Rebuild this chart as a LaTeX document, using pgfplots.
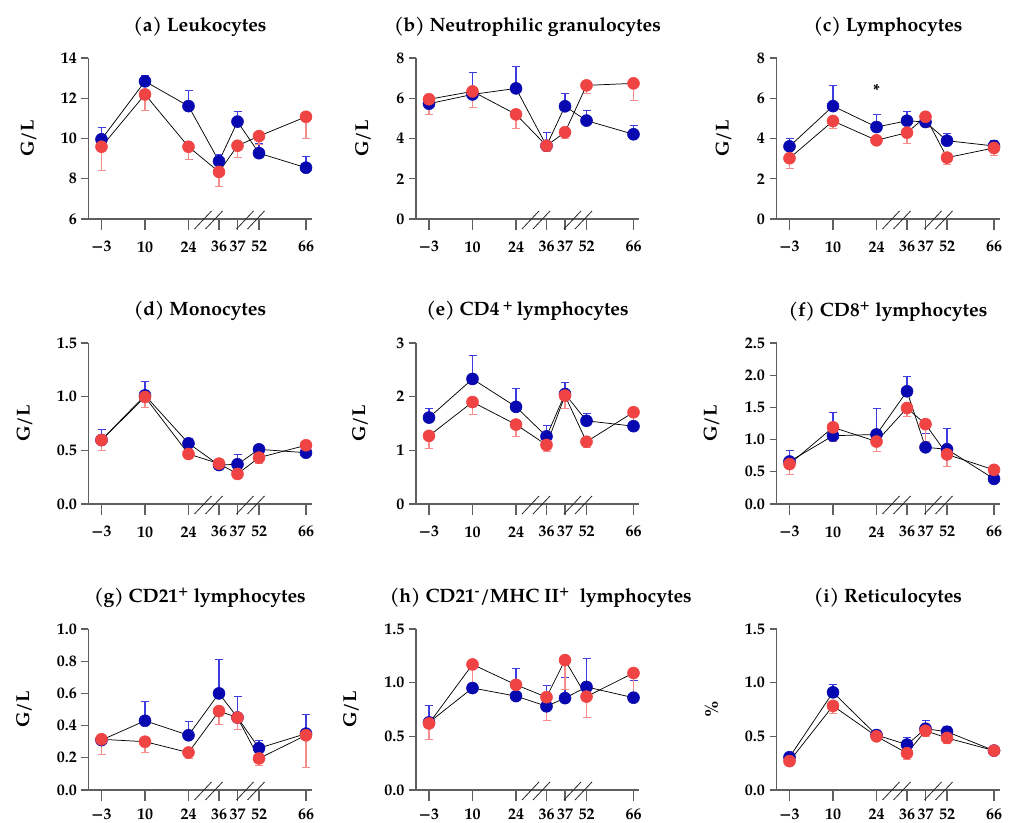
\documentclass[border=0pt]{standalone}
\usepackage{fontspec}
\setmainfont{texgyrepagella}[Extension=.otf, UprightFont=*-regular, BoldFont=*-bold, ItalicFont=*-italic, BoldItalicFont=*-bolditalic]
\usepackage{pgfplots}
\usepackage{pgfplotstable}
\pgfplotsset{compat=1.18}

\definecolor{bmk}{RGB}{8,8,176}
\definecolor{rmk}{RGB}{240,68,68}
\definecolor{bbar}{RGB}{60,60,225}
\definecolor{rbar}{RGB}{244,140,140}
\definecolor{axgray}{RGB}{95,95,95}

% x positions of the weeks -3,10,24,36,37,52,66 on the broken axis
% columns: b = blue group, r = red group, be/re = SEM
\pgfplotstableread{
x b be r re
0 9.96 0.58 9.59 1.17
43.5 12.84 0.30 12.19 0.77
87 11.61 0.80 9.59 0.61
117.5 8.87 0.36 8.34 0.73
136 10.84 0.51 9.64 0.58
157.5 9.27 0.47 10.12 0.39
204.5 8.55 0.56 11.08 1.06
}\tA
\pgfplotstableread{
x b be r re
0 5.73 0.25 5.95 0.75
43.5 6.19 1.10 6.34 0.79
87 6.49 1.08 5.20 0.70
117.5 3.64 0.67 3.64 0.26
136 5.60 0.63 4.31 0.30
157.5 4.89 0.53 6.64 0.40
204.5 4.21 0.46 6.74 0.86
}\tB
\pgfplotstableread{
x b be r re
0 3.61 0.42 3.02 0.51
43.5 5.61 1.04 4.87 0.38
87 4.57 0.64 3.91 0.10
117.5 4.88 0.47 4.29 0.54
136 4.82 0.48 5.08 0.51
157.5 3.89 0.38 3.05 0.33
204.5 3.63 0.28 3.53 0.36
}\tC
\pgfplotstableread{
x b be r re
0 0.596 0.100 0.596 0.099
43.5 1.012 0.131 0.997 0.100
87 0.565 0.045 0.466 0.036
117.5 0.363 0.020 0.376 0.020
136 0.370 0.093 0.280 0.040
157.5 0.509 0.020 0.432 0.052
204.5 0.478 0.020 0.547 0.020
}\tD
\pgfplotstableread{
x b be r re
0 1.61 0.17 1.27 0.24
43.5 2.33 0.44 1.90 0.23
87 1.81 0.34 1.48 0.22
117.5 1.26 0.20 1.10 0.11
136 2.05 0.22 2.02 0.24
157.5 1.55 0.14 1.16 0.11
204.5 1.45 0.05 1.71 0.33
}\tE
\pgfplotstableread{
x b be r re
0 0.66 0.17 0.62 0.16
43.5 1.06 0.37 1.19 0.22
87 1.08 0.41 0.97 0.15
117.5 1.75 0.23 1.49 0.12
136 0.88 0.22 1.24 0.26
157.5 0.85 0.32 0.77 0.19
204.5 0.39 0.02 0.53 0.02
}\tF
\pgfplotstableread{
x b be r re
0 0.310 0.010 0.315 0.090
43.5 0.430 0.120 0.300 0.065
87 0.340 0.090 0.233 0.033
117.5 0.600 0.210 0.490 0.080
136 0.450 0.130 0.450 0.075
157.5 0.260 0.050 0.196 0.040
204.5 0.350 0.120 0.340 0.200
}\tG
\pgfplotstableread{
x b be r re
0 0.630 0.160 0.620 0.150
43.5 0.950 0.020 1.170 0.220
87 0.875 0.255 0.980 0.090
117.5 0.780 0.195 0.865 0.215
136 0.856 0.190 1.210 0.270
157.5 0.960 0.270 0.870 0.190
204.5 0.860 0.160 1.090 0.230
}\tH
\pgfplotstableread{
x b be r re
0 0.306 0.010 0.269 0.010
43.5 0.910 0.078 0.784 0.068
87 0.512 0.010 0.500 0.037
117.5 0.423 0.065 0.343 0.053
136 0.571 0.080 0.552 0.052
157.5 0.543 0.050 0.485 0.045
204.5 0.367 0.010 0.367 0.010
}\tI

% one axis segment of one group: connecting line, then bars and dots
\newcommand\seg[8]{%
  \addplot[black, line width=0.55pt, no markers, restrict x to domain=#7, forget plot] table[x=x, y=#2]{#1};
  \addplot[#4, only marks, mark=*, mark size=4.5pt, restrict x to domain=#8,
    error bars/.cd, y dir=#6, y explicit,
    error bar style={#5, line width=0.8pt, mark size=3pt}]
    table[x=x, y=#2, y error=#3]{#1};
}
\newcommand\both[3]{%
  \seg{#1}{b}{be}{bmk}{bbar}{plus}{#2}{#3}
  \seg{#1}{r}{re}{rmk}{rbar}{minus}{#2}{#3}}
\newcommand\drawall[1]{%
  \both{#1}{-1:88}{-1:88}
  \both{#1}{86:137}{116:137}
  \both{#1}{135:206}{156:206}}
% the // marks of the axis breaks
\newcommand\brk[1]{%
  \draw[black!85, line width=0.6pt]
    ([shift={(79.5pt,-7.5pt)}]#1.south west) -- ++(12.75pt,13.5pt)
    ([shift={(87.75pt,-7.5pt)}]#1.south west) -- ++(12.75pt,13.5pt)
    ([shift={(111pt,-7.5pt)}]#1.south west) -- ++(12.75pt,13.5pt)
    ([shift={(119.25pt,-7.5pt)}]#1.south west) -- ++(12.75pt,13.5pt);}

\pgfplotsset{
  panel/.style={
    scale only axis, width=167.25pt, height=120.75pt, anchor=south west,
    xmin=-13, xmax=210, clip=false,
    axis x line*=bottom, axis y line*=left,
    axis line style={axgray, line width=0.8pt},
    tick align=outside, major tick length=5.25pt,
    tick style={axgray, line width=0.8pt},
    xtick=\empty,
    extra x ticks={0,43.5,87,117.5,136,157.5,204.5},
    extra x tick labels={−3,10,24,36,37,52,66},
    extra x tick style={major tick length=8.25pt},
    xticklabel style={yshift=-5pt},
    /pgf/number format/assume math mode=true,
    tick label style={font=\bfseries\fontsize{12}{14}\selectfont, text=black},
    ylabel={G/L},
    ylabel style={font=\bfseries\fontsize{14}{16}\selectfont, anchor=center},
    title style={at={(axis description cs:0.5,1)}, anchor=base, yshift=14.25pt,
      font=\bfseries\fontsize{14.5}{17}\selectfont},
  },
  lastrow/.style={xticklabel style={yshift=2.5pt}},
  ylx/.style={ylabel style={at={(axis description cs:#1,0.5)}}},
  dec/.style={yticklabel style={/pgf/number format/.cd, fixed, fixed zerofill, precision=1}},
}

\begin{document}
\begin{tikzpicture}
\useasboundingbox (0,0) rectangle (758.25pt,-617.25pt);

\begin{axis}[panel, name=a, at={(66.375pt,-164.25pt)}, ylx=-0.269,
  ymin=6, ymax=14, ytick={6,8,10,12,14}, title={(a) Leukocytes}]
\drawall{\tA}
\end{axis}
\brk{a}

\begin{axis}[panel, name=b, at={(312pt,-164.25pt)}, ylx=-0.238,
  ymin=0, ymax=8, ytick={0,2,4,6,8}, title={(b) Neutrophilic granulocytes}]
\drawall{\tB}
\end{axis}
\brk{b}

\begin{axis}[panel, name=c, at={(582.375pt,-164.25pt)}, ylx=-0.238,
  ymin=0, ymax=8, ytick={0,2,4,6,8}, title={(c) Lymphocytes}]
\drawall{\tC}
\node[font=\bfseries\fontsize{12}{12}\selectfont] at (axis cs:87,6.4) {*};
\end{axis}
\brk{c}

\begin{axis}[panel, dec, name=d, at={(66.375pt,-378pt)}, ylx=-0.287,
  ymin=0, ymax=1.5, ytick={0,0.5,1,1.5}, title={(d) Monocytes}]
\drawall{\tD}
\end{axis}
\brk{d}

\begin{axis}[panel, name=e, at={(312pt,-378pt)}, ylx=-0.251,
  ymin=0, ymax=3, ytick={0,1,2,3}, title={(e) CD4\,\textsuperscript{+}\,lymphocytes}]
\drawall{\tE}
\end{axis}
\brk{e}

\begin{axis}[panel, dec, name=f, at={(582.375pt,-378pt)}, ylx=-0.291,
  ymin=0, ymax=2.5, ytick={0,0.5,1,1.5,2,2.5}, title={(f) CD8\textsuperscript{+} lymphocytes}]
\drawall{\tF}
\end{axis}
\brk{f}

\begin{axis}[panel, dec, lastrow, name=g, at={(66.375pt,-592.5pt)}, ylx=-0.289,
  ymin=0, ymax=1, ytick={0,0.2,0.4,0.6,0.8,1}, title={(g) CD21\textsuperscript{+} lymphocytes}]
\drawall{\tG}
\end{axis}
\brk{g}

\begin{axis}[panel, dec, lastrow, name=h, at={(312pt,-592.5pt)}, ylx=-0.291,
  ymin=0, ymax=1.5, ytick={0,0.5,1,1.5},
  title={(h) CD21\textsuperscript{-}/MHC II\textsuperscript{+}\ \ lymphocytes},
  title style={xshift=10pt}]
\drawall{\tH}
\end{axis}
\brk{h}

\begin{axis}[panel, dec, lastrow, name=i, at={(582.375pt,-592.5pt)}, ylx=-0.291,
  ymin=0, ymax=1.5, ytick={0,0.5,1,1.5}, ylabel={\%}, title={(i) Reticulocytes}]
\drawall{\tI}
\end{axis}
\brk{i}

\end{tikzpicture}
\end{document}
